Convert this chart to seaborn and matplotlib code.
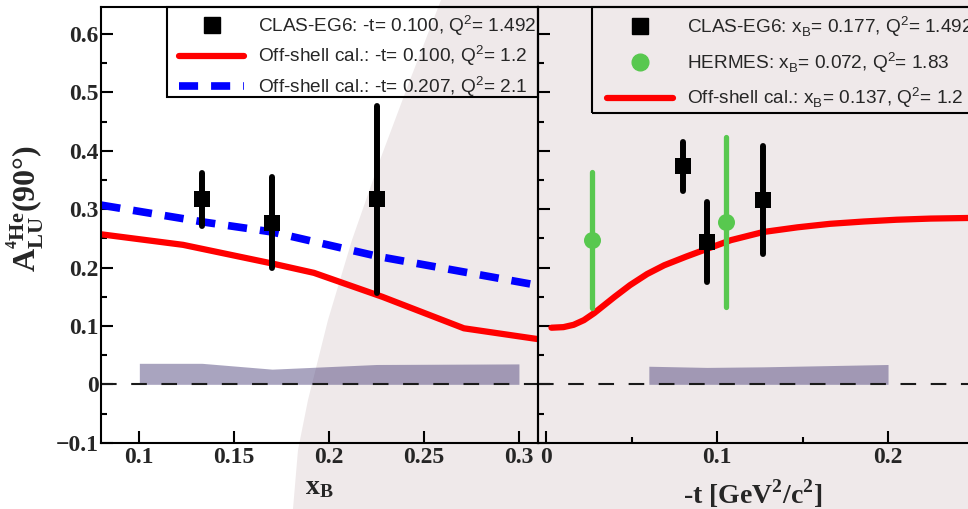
import matplotlib
matplotlib.use('Agg')
import matplotlib.pyplot as plt
import seaborn as sns
from matplotlib.patches import Polygon, Rectangle
from matplotlib.lines import Line2D
from matplotlib.ticker import MultipleLocator, NullLocator
from matplotlib.font_manager import FontProperties

sns.set_theme(style='ticks')
plt.rcParams['font.family'] = ['Liberation Sans', 'DejaVu Sans']
plt.rcParams['axes.unicode_minus'] = True

# ---------------- data: left panel (vs x_B) ----------------
xb_clas = [0.133, 0.170, 0.225]
alu_xb_clas = [0.317, 0.277, 0.317]
err_xb_clas = [0.045, 0.078, 0.160]

xb_calc_a = [0.080, 0.123, 0.170, 0.192, 0.228, 0.271, 0.311]
alu_calc_a = [0.257, 0.239, 0.207, 0.191, 0.150, 0.096, 0.077]

xb_calc_b = [0.080, 0.134, 0.170, 0.226, 0.311]
alu_calc_b = [0.307, 0.278, 0.261, 0.219, 0.169]

xb_sys = [0.100, 0.133, 0.170, 0.225, 0.300]
sys_xb = [0.036, 0.036, 0.026, 0.034, 0.035]

# ---------------- data: right panel (vs -t) ----------------
t_clas = [0.080, 0.094, 0.127]
alu_t_clas = [0.374, 0.244, 0.316]
err_t_clas = [0.042, 0.068, 0.093]

t_hermes = [0.027, 0.105]
alu_t_hermes = [0.247, 0.278]
err_t_hermes = [0.116, 0.146]

t_calc = [0.003, 0.010, 0.016, 0.022, 0.028, 0.034, 0.040, 0.049, 0.059, 0.069,
          0.082, 0.094, 0.108, 0.127, 0.147, 0.166, 0.186, 0.205, 0.225, 0.247]
alu_t_calc = [0.097, 0.098, 0.102, 0.110, 0.122, 0.136, 0.150, 0.170, 0.189, 0.204,
              0.219, 0.232, 0.247, 0.261, 0.269, 0.275, 0.279, 0.282, 0.284, 0.285]

t_sys = [0.060, 0.094, 0.127, 0.200]
sys_t = [0.031, 0.029, 0.030, 0.034]

left_labels = ['CLAS-EG6: -t= 0.100, Q$^\\mathregular{2}$= 1.492',
               'Off-shell cal.: -t= 0.100, Q$^\\mathregular{2}$= 1.2',
               'Off-shell cal.: -t= 0.207, Q$^\\mathregular{2}$= 2.1']
right_labels = ['CLAS-EG6: x$_\\mathregular{B}$= 0.177, Q$^\\mathregular{2}$= 1.492',
                'HERMES: x$_\\mathregular{B}$= 0.072, Q$^\\mathregular{2}$= 1.83',
                'Off-shell cal.: x$_\\mathregular{B}$= 0.137, Q$^\\mathregular{2}$= 1.2']

yticks = [-0.1, 0.0, 0.1, 0.2, 0.3, 0.4, 0.5, 0.6]
yticklabels = ['\u22120.1', '0', '0.1', '0.2', '0.3', '0.4', '0.5', '0.6']
xb_ticks = [0.10, 0.15, 0.20, 0.25, 0.30]
xb_ticklabels = ['0.1', '0.15', '0.2', '0.25', '0.3']
t_ticks = [0.0, 0.1, 0.2]
t_ticklabels = ['0', '0.1', '0.2']

# ---------------- figure ----------------
W, H = 968, 509
fig = plt.figure(figsize=(W / 100, H / 100), dpi=100)
fig.patch.set_facecolor('white')

shade_px = [(441, 0), (410, 80), (380, 160), (352, 240), (328, 320), (308, 400),
            (298, 450), (293, 509), (968, 509), (968, 0)]
fig.patches.append(Polygon([(x / W, 1 - y / H) for x, y in shade_px], closed=True,
                           transform=fig.transFigure, facecolor='#efe9ea',
                           edgecolor='none', zorder=-5))

x0, xd, ytop, ybot = 101, 538.3, 6.7, 442.7
ax1 = fig.add_axes([x0 / W, 1 - ybot / H, (xd - x0) / W, (ybot - ytop) / H])
ax2 = fig.add_axes([xd / W, 1 - ybot / H, (W - xd) / W, (ybot - ytop) / H])

tick_fp = FontProperties(family='Liberation Serif', weight='bold', size=17)
lab_fp = FontProperties(family='Liberation Serif', weight='bold', size=20)
ylab_fp = FontProperties(family='Liberation Serif', weight='bold', size=23)

band_color = (66 / 255, 55 / 255, 115 / 255)
green = '#58c84f'
blue_dash = (0, (2.5, 1.7))

for ax in (ax1, ax2):
    ax.set_facecolor('none')
    ax.set_ylim(-0.1, 0.647)
    ax.axhline(0, color='#1a1a1a', lw=1.5, dashes=(7.5, 7), zorder=1.5)
    for s in ax.spines.values():
        s.set_linewidth(1.5)
        s.set_color('black')
    ax.tick_params(which='both', direction='in', color='black', width=1.5,
                   top=False, right=False)
    ax.tick_params(which='major', length=8.6)
    ax.tick_params(which='minor', length=4.3)
    ax.set_yticks(yticks)
    ax.yaxis.set_minor_locator(MultipleLocator(0.05))

# ---- left panel ----
ax1.set_xlim(0.0798, 0.3102)
ax1.fill_between(xb_sys, 0, sys_xb, color=band_color, alpha=0.45, lw=0, zorder=1)
sns.lineplot(x=xb_calc_a, y=alu_calc_a, ax=ax1, color='red', lw=4.5,
             sort=False, estimator=None, zorder=2)
sns.lineplot(x=xb_calc_b, y=alu_calc_b, ax=ax1, color='blue', lw=5.5,
             sort=False, estimator=None, linestyle=blue_dash, zorder=2)
eb = ax1.errorbar(xb_clas, alu_xb_clas, yerr=err_xb_clas, fmt='none', ecolor='black',
                  elinewidth=4.3, capsize=0, zorder=3)
eb[2][0].set_capstyle('round')
sns.scatterplot(x=xb_clas, y=alu_xb_clas, ax=ax1, marker='s', s=125, color='black',
                linewidth=0, zorder=4)
ax1.set_xticks(xb_ticks)
ax1.set_xticklabels(xb_ticklabels, fontproperties=tick_fp)
ax1.set_yticklabels(yticklabels, fontproperties=tick_fp)
ax1.xaxis.set_minor_locator(NullLocator())
ax1.tick_params(axis='y', pad=1.5)
ax1.tick_params(axis='x', pad=3)
ax1.set_xlabel('$\\mathregular{x_B}$', fontproperties=lab_fp, labelpad=5)
ax1.set_ylabel('$\\mathregular{A^{{}^{4}He}_{LU}}$(90\u00b0)', fontproperties=ylab_fp)
ax1.yaxis.set_label_coords(-0.125, 0.537)

# ---- right panel ----
ax2.set_xlim(-0.0047, 0.2468)
ax2.spines['right'].set_visible(False)
ax2.fill_between(t_sys, 0, sys_t, color=band_color, alpha=0.45, lw=0, zorder=1)
sns.lineplot(x=t_calc, y=alu_t_calc, ax=ax2, color='red', lw=4.5,
             sort=False, estimator=None, zorder=2)
eb = ax2.errorbar(t_clas, alu_t_clas, yerr=err_t_clas, fmt='none', ecolor='black',
                  elinewidth=4.3, capsize=0, zorder=3)
eb[2][0].set_capstyle('round')
eb = ax2.errorbar(t_hermes, alu_t_hermes, yerr=err_t_hermes, fmt='none', ecolor=green,
                  elinewidth=3.8, capsize=0, zorder=3)
eb[2][0].set_capstyle('round')
sns.scatterplot(x=t_clas, y=alu_t_clas, ax=ax2, marker='s', s=125, color='black',
                linewidth=0, zorder=4)
sns.scatterplot(x=t_hermes, y=alu_t_hermes, ax=ax2, marker='o', s=150, color=green,
                linewidth=0, zorder=4)
ax2.set_xticks(t_ticks)
ax2.set_xticklabels(t_ticklabels, fontproperties=tick_fp)
ax2.xaxis.set_minor_locator(MultipleLocator(0.05))
ax2.tick_params(axis='y', labelleft=False)
ax2.tick_params(axis='x', pad=3)
ax2.set_xlabel('-t [GeV$^\\mathregular{2}$/c$^\\mathregular{2}$]', fontproperties=lab_fp,
               labelpad=7)

# ---- legends ----
fs = 13.7
fs_px = fs * 100 / 72
h_left = [Line2D([], [], marker='s', color='black', ls='none', ms=11),
          Line2D([], [], color='red', lw=4.5),
          Line2D([], [], color='blue', lw=5.5, linestyle=blue_dash)]
h_right = [Line2D([], [], marker='s', color='black', ls='none', ms=11.5),
           Line2D([], [], marker='o', color=green, ls='none', ms=12),
           Line2D([], [], color='red', lw=4.5)]

leg1 = ax1.legend(h_left, left_labels, loc='upper left',
                  bbox_to_anchor=(179 / W, 1 - 13 / H), bbox_transform=fig.transFigure,
                  frameon=False, borderpad=0, borderaxespad=0, fontsize=fs,
                  handlelength=65 / fs_px, handletextpad=14 / fs_px, labelspacing=0.3)
leg2 = ax2.legend(h_right, right_labels, loc='upper left',
                  bbox_to_anchor=(607 / W, 1 - 14 / H), bbox_transform=fig.transFigure,
                  frameon=False, borderpad=0, borderaxespad=0, fontsize=fs,
                  handlelength=66 / fs_px, handletextpad=14 / fs_px, labelspacing=0.58)

fig.patches.append(Rectangle((167 / W, 1 - 97 / H), (xd - 167) / W, 90.3 / H,
                             transform=fig.transFigure, fill=False, ec='black',
                             lw=1.5, zorder=5))
fig.patches.append(Rectangle((592 / W, 1 - 113 / H), (990 - 592) / W, 106.3 / H,
                             transform=fig.transFigure, fill=False, ec='black',
                             lw=1.5, zorder=5))

fig.savefig('out.png', dpi=100)
